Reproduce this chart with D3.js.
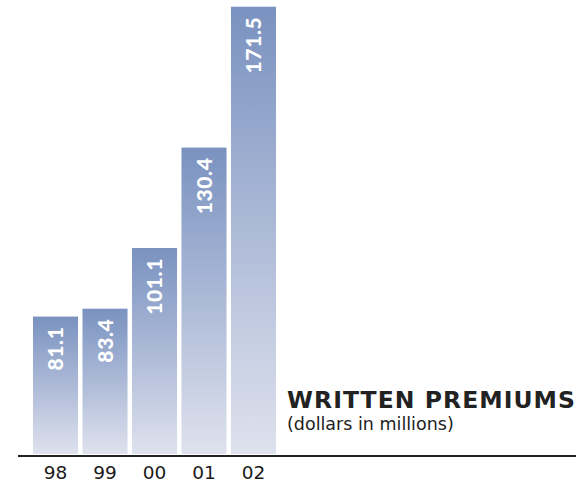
<!DOCTYPE html>
<html lang="en">
<head>
<meta charset="utf-8">
<title>Written Premiums</title>
<script src="https://d3js.org/d3.v7.min.js"></script>
<style>
  body { margin: 0; background: #fff; }
  svg { display: block; font-family: "DejaVu Sans", sans-serif; }
  .bar-label { fill: #fff; font-family: Lato, sans-serif; font-weight: 900; font-size: 21px; letter-spacing: 0.6px; }
  .cat { fill: #1a1a1a; font-size: 18.5px; }
</style>
</head>
<body>
<svg width="588" height="482"></svg>
<script>
// chart data
var years = ["98", "99", "00", "01", "02"];
var premiums = [81.1, 83.4, 101.1, 130.4, 171.5];
var labels = ["81.1", "83.4", "101.1", "130.4", "171.5"];

var svg = d3.select("svg");
var baseY = 454;

var x = d3.scaleBand().domain(years).range([31, 278]).paddingInner(0.09).paddingOuter(0.04);
// the original art is not drawn from zero, so fit a linear scale with a raised floor
var y = d3.scaleLinear().domain([41, 172]).range([baseY, 5]);

var defs = svg.append("defs");
var grad = defs.append("linearGradient")
    .attr("id", "barGrad")
    .attr("x1", 0).attr("y1", 0).attr("x2", 0).attr("y2", 1);
grad.append("stop").attr("offset", "0%").attr("stop-color", "#7a92c0");
grad.append("stop").attr("offset", "100%").attr("stop-color", "#dfe2ee");

var data = years.map(function(d, i) { return {year: d, value: premiums[i], label: labels[i]}; });

svg.selectAll(".bar")
  .data(data)
  .enter().append("rect")
    .attr("class", "bar")
    .attr("x", function(d) { return x(d.year); })
    .attr("y", function(d) { return y(d.value); })
    .attr("width", x.bandwidth())
    .attr("height", function(d) { return baseY - y(d.value); })
    .attr("fill", "url(#barGrad)");

svg.selectAll(".bar-label")
  .data(data)
  .enter().append("text")
    .attr("class", "bar-label")
    .attr("text-anchor", "end")
    .attr("dy", "0.36em")
    .attr("transform", function(d) {
      return "translate(" + (x(d.year) + x.bandwidth() / 2) + "," + (y(d.value) + 10) + ") rotate(-90)";
    })
    .text(function(d) { return d.label; });

// baseline rule
svg.append("line")
    .attr("x1", 18).attr("x2", 576)
    .attr("y1", 456).attr("y2", 456)
    .attr("stroke", "#222").attr("stroke-width", 2.2);

svg.append("g")
  .selectAll("text")
  .data(years)
  .enter().append("text")
    .attr("class", "cat")
    .attr("x", function(d) { return x(d) + x.bandwidth() / 2; })
    .attr("y", 479)
    .attr("text-anchor", "middle")
    .text(function(d) { return d; });

svg.append("text")
    .attr("x", 287).attr("y", 408)
    .attr("font-size", 23.5).attr("font-weight", "bold").attr("fill", "#222")
    .attr("textLength", 288).attr("lengthAdjust", "spacing")
    .text("WRITTEN PREMIUMS");

svg.append("text")
    .attr("x", 287).attr("y", 430)
    .attr("font-size", 17.5).attr("fill", "#222")
    .text("(dollars in millions)");
</script>
</body>
</html>
